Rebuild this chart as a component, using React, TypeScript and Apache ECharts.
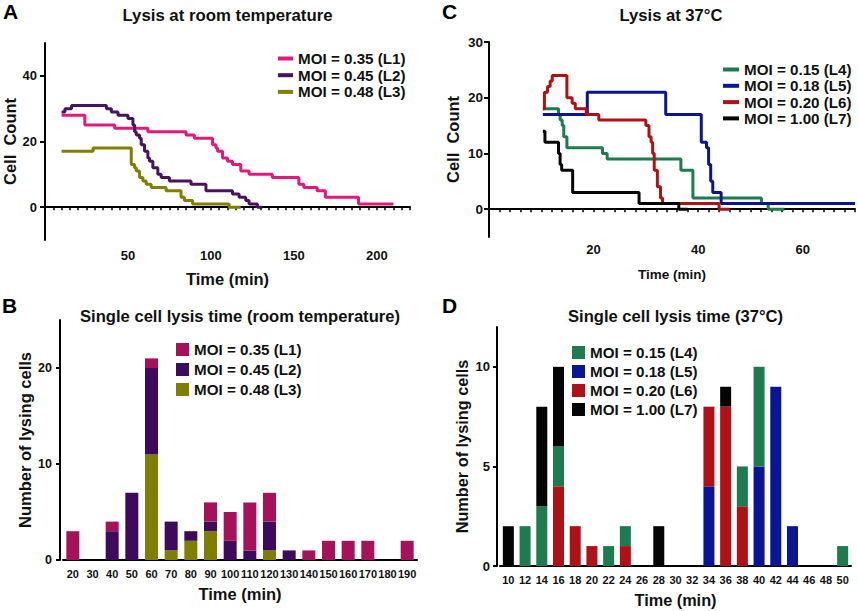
import React, { useEffect, useRef } from "react";
import * as echarts from "echarts";

// ---------- Panel A: lysis at room temperature (time, cell count) ----------
const A_L1: [number, number][] = [
  [10, 28], [24, 25], [42, 24], [62, 23], [85, 22], [90, 21], [101, 19], [103, 18],
  [104, 17], [107, 15], [110, 14], [113, 13], [118, 11], [123, 10], [137, 9], [153, 7],
  [156, 6], [164, 5], [169, 3], [189, 1], [210, 1],
];
const A_L2: [number, number][] = [
  [10, 29], [12, 30], [16, 31], [37, 30], [40, 29], [44, 28], [50, 27], [53, 25],
  [54, 23], [55, 22], [57, 21], [58, 19], [60, 17], [62, 15], [63, 14], [65, 12],
  [68, 10], [70, 9], [75, 8], [88, 7], [97, 5], [113, 4], [117, 3], [121, 2],
  [123, 1], [128, 0], [131, 0],
];
const A_L3: [number, number][] = [
  [10, 17], [29, 18], [52, 13], [54, 12], [55, 11], [57, 9], [59, 8], [61, 7],
  [64, 6], [73, 5], [82, 3], [84, 2], [89, 1], [111, 0], [118, 0],
];

// ---------- Panel C: lysis at 37°C ----------
const C_L4: [number, number][] = [
  [10.3, 18], [13.3, 17], [13.6, 16], [14, 15], [14.3, 13], [14.9, 11], [21.7, 10],
  [22.6, 9], [36.7, 7], [39, 2], [52.1, 1], [53.4, 0], [56.5, 0],
];
const C_L5: [number, number][] = [
  [10.3, 17], [18.8, 21], [33.8, 17], [40.6, 12], [41.6, 11], [42, 8], [42.4, 5],
  [42.8, 3], [44.4, 1], [70, 1],
];
const C_L6: [number, number][] = [
  [10.3, 18], [10.6, 21], [11.2, 22], [11.7, 23], [12.1, 24], [14.9, 20], [15.9, 19],
  [16.5, 18], [18.6, 17], [21, 16], [30, 15], [30.6, 13], [31, 12], [31.3, 10],
  [31.6, 7], [32.2, 4], [32.8, 2], [33.2, 1], [44, 0], [46, 0],
];
const C_L7: [number, number][] = [
  [10.3, 14], [10.7, 12], [13.3, 10], [13.6, 8], [13.9, 7], [16, 3], [28.7, 1],
  [36.3, 0], [38, 0],
];

// ---------- Panel B: single cell lysis time (room temperature) ----------
const B_CATS = ["20", "30", "40", "50", "60", "70", "80", "90", "100", "110", "120",
  "130", "140", "150", "160", "170", "180", "190"];
const B_L1 = [3, 0, 1, 0, 1, 0, 0, 2, 3, 5, 3, 0, 1, 2, 2, 2, 0, 2];
const B_L2 = [0, 0, 3, 7, 9, 3, 1, 1, 2, 1, 3, 1, 0, 0, 0, 0, 0, 0];
const B_L3 = [0, 0, 0, 0, 11, 1, 2, 3, 0, 0, 1, 0, 0, 0, 0, 0, 0, 0];

// ---------- Panel D: single cell lysis time (37°C) ----------
const D_CATS = ["10", "12", "14", "16", "18", "20", "22", "24", "26", "28", "30",
  "32", "34", "36", "38", "40", "42", "44", "46", "48", "50"];
const D_L4 = [0, 2, 3, 2, 0, 0, 1, 1, 0, 0, 0, 0, 0, 0, 2, 5, 0, 0, 0, 0, 1];
const D_L5 = [0, 0, 0, 0, 0, 0, 0, 0, 0, 0, 0, 0, 4, 0, 0, 5, 9, 2, 0, 0, 0];
const D_L6 = [0, 0, 0, 4, 2, 1, 0, 1, 0, 0, 0, 0, 4, 8, 3, 0, 0, 0, 0, 0, 0];
const D_L7 = [2, 0, 5, 4, 0, 0, 0, 0, 0, 2, 0, 0, 0, 1, 0, 0, 0, 0, 0, 0, 0];

const N1 = "MOI = 0.35 (L1)";
const N2 = "MOI = 0.45 (L2)";
const N3 = "MOI = 0.48 (L3)";
const N4 = "MOI = 0.15 (L4)";
const N5 = "MOI = 0.18 (L5)";
const N6 = "MOI = 0.20 (L6)";
const N7 = "MOI = 1.00 (L7)";

const A_TICK_LABELS = [50, 100, 150, 200];
const A_Y_LABELS = [0, 20, 40];
const C_TICK_LABELS = [20, 40, 60];
const C_Y_LABELS = [0, 10, 20, 30];
const B_Y_LABELS = [0, 10, 20];
const D_Y_LABELS = [0, 5, 10];

const FONT = "'Liberation Sans', Arial, Helvetica, sans-serif";
const TXT = "#111111";

const COL = {
  l1Line: "#E2197B", l2Line: "#47125F", l3Line: "#7F7F00",
  l1Bar: "#A6125A", l2Bar: "#3D0A5C", l3Bar: "#7E7E00",
  l4: "#1D7B4F", l5: "#0B1594", l6: "#AE1116", l7: "#050505",
};

function txt(size: number, extra: any = {}) {
  return { fontSize: size, fontWeight: "bold", color: TXT, fontFamily: FONT, ...extra };
}

function lineSeries(name: string, data: [number, number][], color: string, axis: number) {
  return {
    type: "line", name, data, step: "end", xAxisIndex: axis, yAxisIndex: axis,
    showSymbol: false, symbol: "none", color,
    lineStyle: { width: 3, color }, itemStyle: { color },
  };
}

function barSeries(name: string, data: number[], color: string, axis: number, stack: string, w: number) {
  return {
    type: "bar", name, data, stack, barWidth: w, xAxisIndex: axis, yAxisIndex: axis,
    color, itemStyle: { color },
  };
}

const axisLine = { lineStyle: { color: "#000", width: 2 } };

const LS = 15.2;
function legendItem(name: string, color: string) {
  return { name, itemStyle: { color }, textStyle: txt(LS, { lineHeight: 15 }) };
}

export default function App() {
  const ref = useRef<HTMLDivElement>(null);
  useEffect(() => {
    if (!ref.current) return;
    const chart = echarts.init(ref.current, undefined, { renderer: "svg" });
    const legendBase = {
      orient: "vertical", icon: "rect", padding: 0, selectedMode: false,
      itemStyle: { borderWidth: 0 }, textStyle: txt(LS, { lineHeight: 15 }),
    };
    const option: any = {
      animation: false,
      backgroundColor: "#ffffff",
      grid: [
        { left: 45, top: 43, width: 365, height: 197 },
        { left: 63, top: 320, width: 354, height: 240 },
        { left: 489, top: 42, width: 366, height: 195 },
        { left: 500, top: 327, width: 351, height: 239 },
      ],
      xAxis: [
        {
          gridIndex: 0, type: "value", min: 0, max: 220, interval: 5,
          name: "Time (min)", nameLocation: "middle", nameGap: 30, nameTextStyle: txt(16.5),
          axisLine: { ...axisLine, onZero: true },
          axisTick: { length: 3, lineStyle: { width: 1.5, color: "#000" } },
          axisLabel: { customValues: A_TICK_LABELS, margin: 9, ...txt(13) },
          splitLine: { show: false },
        },
        {
          gridIndex: 1, type: "category", data: B_CATS,
          name: "Time (min)", nameLocation: "middle", nameGap: 25, nameTextStyle: txt(16.5),
          axisLine, axisTick: { show: false },
          axisLabel: { interval: 0, margin: 8, ...txt(11) },
        },
        {
          gridIndex: 2, type: "value", min: 0, max: 70, interval: 2,
          name: "Time (min)", nameLocation: "middle", nameGap: 30, nameTextStyle: txt(13.5),
          axisLine: { ...axisLine, onZero: true },
          axisTick: { length: 3, lineStyle: { width: 1.5, color: "#000" } },
          axisLabel: { customValues: C_TICK_LABELS, margin: 6, ...txt(13) },
          splitLine: { show: false },
        },
        {
          gridIndex: 3, type: "category", data: D_CATS,
          name: "Time (min)", nameLocation: "middle", nameGap: 26, nameTextStyle: txt(16.3),
          axisLine, axisTick: { show: false },
          axisLabel: { interval: 0, margin: 8, ...txt(11) },
        },
      ],
      yAxis: [
        {
          gridIndex: 0, type: "value", min: -10, max: 50, interval: 10,
          name: "Cell  Count", nameLocation: "middle", nameGap: 23, nameTextStyle: txt(16.5),
          axisLine: { ...axisLine, show: true },
          axisTick: { show: true, customValues: A_Y_LABELS, length: 5, lineStyle: { width: 2, color: "#000" } },
          axisLabel: { customValues: A_Y_LABELS, margin: 8, ...txt(13) },
          splitLine: { show: false },
        },
        {
          gridIndex: 1, type: "value", min: 0, max: 25, interval: 5, offset: 3,
          name: "Number of lysing cells", nameLocation: "middle", nameGap: 27, nameTextStyle: txt(16.5),
          axisLine: { ...axisLine, show: true },
          axisTick: { show: true, customValues: B_Y_LABELS, length: 4, lineStyle: { width: 2, color: "#000" } },
          axisLabel: { customValues: B_Y_LABELS, margin: 8, ...txt(12.5) },
          splitLine: { show: false },
        },
        {
          gridIndex: 2, type: "value", min: -5, max: 30, interval: 5,
          name: "Cell  Count", nameLocation: "middle", nameGap: 28, nameTextStyle: txt(16.5),
          axisLine: { ...axisLine, show: true },
          axisTick: { show: true, customValues: C_Y_LABELS, length: 5, lineStyle: { width: 2, color: "#000" } },
          axisLabel: { customValues: C_Y_LABELS, margin: 6, ...txt(13.5) },
          splitLine: { show: false },
        },
        {
          gridIndex: 3, type: "value", min: 0, max: 12, interval: 1, offset: 3,
          name: "Number of lysing cells", nameLocation: "middle", nameGap: 27.5, nameTextStyle: txt(16.3),
          axisLine: { ...axisLine, show: true },
          axisTick: { show: true, customValues: D_Y_LABELS, length: 4, lineStyle: { width: 2, color: "#000" } },
          axisLabel: { customValues: D_Y_LABELS, margin: 7, ...txt(13) },
          splitLine: { show: false },
        },
      ],
      legend: [
        {
          ...legendBase, left: 278, top: 51, itemWidth: 15, itemHeight: 4, itemGap: 1.7,
          data: [legendItem(N1, COL.l1Line), legendItem(N2, COL.l2Line), legendItem(N3, COL.l3Line)],
        },
        {
          ...legendBase, left: 176, top: 342, itemWidth: 13, itemHeight: 13, itemGap: 5,
          data: [legendItem(N1, COL.l1Bar), legendItem(N2, COL.l2Bar), legendItem(N3, COL.l3Bar)],
        },
        {
          ...legendBase, left: 723, top: 62, itemWidth: 16, itemHeight: 4, itemGap: 1.3,
          data: [legendItem(N4, COL.l4), legendItem(N5, COL.l5), legendItem(N6, COL.l6), legendItem(N7, COL.l7)],
        },
        {
          ...legendBase, left: 572, top: 345, itemWidth: 13, itemHeight: 13, itemGap: 4,
          data: [legendItem(N4, COL.l4), legendItem(N5, COL.l5), legendItem(N6, COL.l6), legendItem(N7, COL.l7)],
        },
      ],
      graphic: [
        { type: "text", x: 3, y: 1, style: { text: "A", font: `bold 21px ${FONT}`, fill: "#000", textVerticalAlign: "top" } },
        { type: "text", x: 2, y: 295, style: { text: "B", font: `bold 21px ${FONT}`, fill: "#000", textVerticalAlign: "top" } },
        { type: "text", x: 442, y: 1, style: { text: "C", font: `bold 21px ${FONT}`, fill: "#000", textVerticalAlign: "top" } },
        { type: "text", x: 442, y: 295, style: { text: "D", font: `bold 21px ${FONT}`, fill: "#000", textVerticalAlign: "top" } },
        { type: "text", x: 227.5, y: 15, style: { text: "Lysis at room temperature", font: `bold 16.8px ${FONT}`, fill: TXT, textAlign: "center", textVerticalAlign: "middle" } },
        { type: "text", x: 240, y: 316, style: { text: "Single cell lysis time (room temperature)", font: `bold 16.6px ${FONT}`, fill: TXT, textAlign: "center", textVerticalAlign: "middle" } },
        { type: "text", x: 671, y: 15, style: { text: "Lysis at 37°C", font: `bold 16.6px ${FONT}`, fill: TXT, textAlign: "center", textVerticalAlign: "middle" } },
        { type: "text", x: 675.5, y: 316, style: { text: "Single cell lysis time (37°C)", font: `bold 16.6px ${FONT}`, fill: TXT, textAlign: "center", textVerticalAlign: "middle" } },
      ],
      series: [
        lineSeries(N1, A_L1, COL.l1Line, 0),
        lineSeries(N2, A_L2, COL.l2Line, 0),
        lineSeries(N3, A_L3, COL.l3Line, 0),
        barSeries(N3, B_L3, COL.l3Bar, 1, "B", 13),
        barSeries(N2, B_L2, COL.l2Bar, 1, "B", 13),
        barSeries(N1, B_L1, COL.l1Bar, 1, "B", 13),
        lineSeries(N4, C_L4, COL.l4, 2),
        lineSeries(N5, C_L5, COL.l5, 2),
        lineSeries(N6, C_L6, COL.l6, 2),
        lineSeries(N7, C_L7, COL.l7, 2),
        barSeries(N5, D_L5, COL.l5, 3, "D", 11),
        barSeries(N6, D_L6, COL.l6, 3, "D", 11),
        barSeries(N4, D_L4, COL.l4, 3, "D", 11),
        barSeries(N7, D_L7, COL.l7, 3, "D", 11),
      ],
    };
    chart.setOption(option);
    return () => chart.dispose();
  }, []);
  return (
    <div
      ref={ref}
      style={{ position: "absolute", left: 0, top: 0, width: 858, height: 611, background: "#fff" }}
    />
  );
}
